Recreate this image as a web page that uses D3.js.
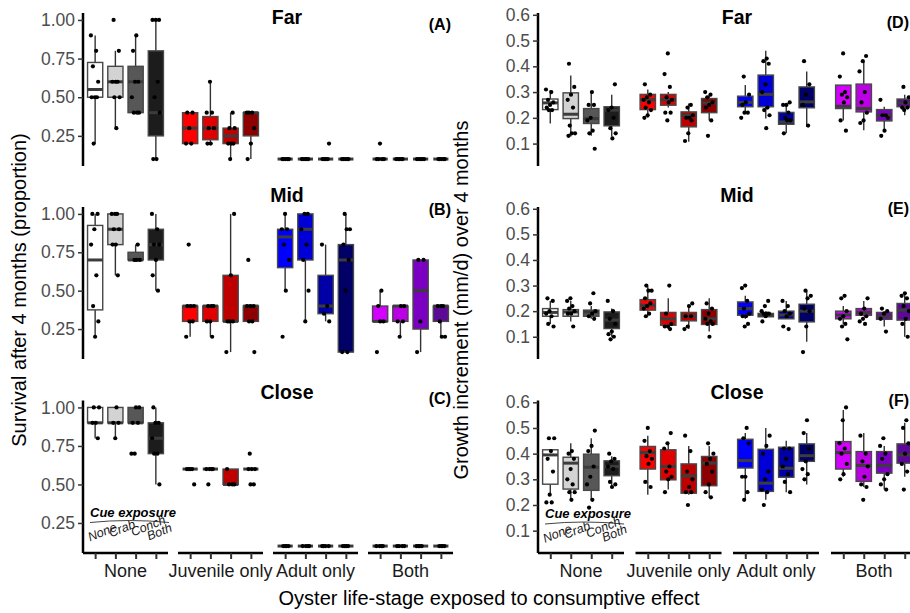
<!DOCTYPE html>
<html><head><meta charset="utf-8">
<script src="https://cdn.jsdelivr.net/npm/d3@7"></script>
<style>body{margin:0;background:#fff}svg{display:block;font-family:"Liberation Sans",Arial,sans-serif}</style>
</head><body><svg id="c" width="910" height="613"></svg>
<script>
// ---------- DATA ----------
const groups = ["None", "Juvenile only", "Adult only", "Both"];
const cues = ["None", "Crab", "Conch", "Both"];
const rowTitles = ["Far", "Mid", "Close"];
const panelTags = ["(A)", "(B)", "(C)", "(D)", "(E)", "(F)"];
const fillColors = ["#ffffff", "#d3d3d3", "#575757", "#1c1c1c",
  "#ff0000", "#e00000", "#bf0000", "#8e0000",
  "#0000ff", "#0000d6", "#0000a6", "#000066",
  "#d400ff", "#bb00e6", "#7c00c2", "#5c0a96"];
const survTicks = [0.25, 0.5, 0.75, 1.0];
const growthTicks = [0.1, 0.2, 0.3, 0.4, 0.5, 0.6];

// box stats: [lower whisker, Q1, median, Q3, upper whisker]
const survFarBox = [[0.2,0.5,0.55,0.725,0.9],[0.3,0.5,0.6,0.7,0.8],[0.4,0.4,0.6,0.7,0.9],[0.1,0.25,0.4,0.8,1.0],
  [0.2,0.2,0.3,0.4,0.4],[0.2,0.225,0.3,0.375,0.6],[0.1,0.2,0.25,0.3,0.4],[0.1,0.25,0.4,0.4,0.4],
  [0.1,0.1,0.1,0.1,0.1],[0.1,0.1,0.1,0.1,0.1],[0.1,0.1,0.1,0.1,0.1],[0.1,0.1,0.1,0.1,0.1],
  [0.1,0.1,0.1,0.1,0.1],[0.1,0.1,0.1,0.1,0.1],[0.1,0.1,0.1,0.1,0.1],[0.1,0.1,0.1,0.1,0.1]];
const survFarPts = [[0.9,0.8,0.7,0.6,0.5,0.5,0.5,0.2],[1.0,0.8,0.6,0.6,0.6,0.5,0.5,0.3],[0.9,0.8,0.6,0.6,0.5,0.4,0.4,0.4],[1.0,1.0,1.0,0.6,0.5,0.4,0.1,0.1],
  [0.4,0.4,0.3,0.2,0.2],[0.6,0.4,0.4,0.3,0.3,0.2,0.2],[0.4,0.3,0.3,0.2,0.2,0.2,0.1],[0.4,0.4,0.4,0.3,0.2,0.1],
  [0.1,0.1,0.1,0.1,0.1],[0.1,0.1,0.1,0.1,0.1],[0.2,0.1,0.1,0.1,0.1],[0.1,0.1,0.1,0.1,0.1],
  [0.2,0.1,0.1,0.1,0.1],[0.1,0.1,0.1,0.1,0.1],[0.1,0.1,0.1,0.1,0.1],[0.1,0.1,0.1,0.1,0.1]];

const survMidBox = [[0.2,0.375,0.7,0.925,1.0],[0.6,0.8,0.9,1.0,1.0],[0.7,0.7,0.7,0.75,0.8],[0.5,0.7,0.8,0.9,1.0],
  [0.2,0.3,0.4,0.4,0.4],[0.2,0.3,0.4,0.4,0.4],[0.1,0.3,0.3,0.6,1.0],[0.3,0.3,0.4,0.4,0.4],
  [0.5,0.65,0.85,0.9,1.0],[0.3,0.7,0.9,1.0,1.0],[0.3,0.35,0.4,0.6,0.8],[0.1,0.1,0.7,0.8,1.0],
  [0.3,0.3,0.3,0.4,0.5],[0.2,0.3,0.4,0.4,0.4],[0.1,0.25,0.5,0.7,0.7],[0.2,0.3,0.4,0.4,0.4]];
const survMidPts = [[1.0,1.0,0.9,0.8,0.6,0.4,0.3,0.2],[1.0,1.0,1.0,0.9,0.9,0.8,0.8,0.6],[0.8,0.7,0.7,0.7],[1.0,0.9,0.8,0.8,0.7,0.6,0.5],
  [0.8,0.4,0.4,0.4,0.3,0.3,0.2],[0.4,0.4,0.4,0.3,0.3,0.2],[1.0,0.6,0.3,0.3,0.3,0.1],[0.7,0.4,0.4,0.4,0.3,0.3,0.1],
  [1.0,0.9,0.9,0.8,0.7,0.5,0.2],[1.0,1.0,0.9,0.8,0.7,0.5,0.3],[0.8,0.4,0.35,0.3],[1.0,0.9,0.9,0.8,0.7,0.5,0.1,0.1],
  [0.5,0.4,0.3,0.3,0.1],[0.4,0.4,0.3,0.3,0.2],[0.7,0.7,0.3,0.1],[0.4,0.4,0.4,0.3,0.2,0.2]];

const survCloseBox = [[0.8,0.9,0.9,1.0,1.0],[0.8,0.9,0.9,1.0,1.0],[0.9,0.9,0.9,1.0,1.0],[0.5,0.7,0.8,0.9,1.0],
  [0.6,0.6,0.6,0.6,0.6],[0.6,0.6,0.6,0.6,0.6],[0.5,0.5,0.5,0.6,0.6],[0.6,0.6,0.6,0.6,0.6],
  [0.1,0.1,0.1,0.1,0.1],[0.1,0.1,0.1,0.1,0.1],[0.1,0.1,0.1,0.1,0.1],[0.1,0.1,0.1,0.1,0.1],
  [0.1,0.1,0.1,0.1,0.1],[0.1,0.1,0.1,0.1,0.1],[0.1,0.1,0.1,0.1,0.1],[0.1,0.1,0.1,0.1,0.1]];
const survClosePts = [[1.0,1.0,0.9,0.9,0.8],[1.0,0.9,0.9,0.8],[1.0,1.0,0.9,0.9,0.7,0.7],[1.0,0.9,0.9,0.8,0.7,0.7,0.5],
  [0.6,0.6,0.6,0.6,0.5],[0.6,0.6,0.6,0.6,0.5],[0.6,0.5,0.5,0.5],[0.7,0.6,0.6,0.6,0.5,0.5],
  [0.1,0.1,0.1,0.1],[0.1,0.1,0.1,0.1],[0.1,0.1,0.1,0.1],[0.1,0.1,0.1,0.1],
  [0.1,0.1,0.1,0.1],[0.1,0.1,0.1,0.1],[0.1,0.1,0.1,0.1],[0.1,0.1,0.1,0.1]];

const growFarBox = [[0.178,0.232,0.258,0.273,0.308],[0.128,0.197,0.214,0.297,0.364],[0.13,0.178,0.197,0.236,0.30],[0.128,0.169,0.23,0.243,0.29],
  [0.20,0.232,0.27,0.291,0.31],[0.24,0.249,0.271,0.291,0.30],[0.107,0.165,0.21,0.223,0.256],[0.19,0.22,0.258,0.275,0.29],
  [0.217,0.243,0.26,0.284,0.327],[0.197,0.243,0.291,0.366,0.46],[0.14,0.175,0.184,0.221,0.256],[0.165,0.239,0.262,0.32,0.38],
  [0.19,0.236,0.245,0.327,0.327],[0.152,0.223,0.236,0.331,0.418],[0.145,0.188,0.21,0.232,0.243],[0.21,0.243,0.258,0.273,0.29]];
const growFarPts = [[0.31,0.30,0.27,0.26,0.25,0.24,0.23,0.23],[0.41,0.32,0.29,0.27,0.24,0.17,0.14,0.14,0.13],[0.30,0.25,0.25,0.20,0.19,0.15,0.14,0.08],[0.33,0.24,0.23,0.20,0.16,0.14,0.12],
  [0.33,0.29,0.28,0.27,0.26,0.24,0.23,0.21,0.20],[0.45,0.37,0.32,0.28,0.27,0.26,0.22,0.22,0.19],[0.25,0.24,0.21,0.20,0.20,0.19,0.14,0.11],[0.30,0.29,0.28,0.26,0.25,0.24,0.19,0.13],
  [0.36,0.29,0.26,0.25,0.22,0.22,0.20],[0.43,0.42,0.41,0.33,0.30,0.24,0.23,0.21,0.16],[0.26,0.25,0.25,0.22,0.20,0.19,0.19,0.14],[0.42,0.33,0.29,0.25,0.17],
  [0.45,0.36,0.30,0.29,0.28,0.26,0.19,0.15],[0.44,0.42,0.38,0.30,0.26,0.22,0.19,0.18],[0.27,0.21,0.21,0.20,0.15,0.13],[0.32,0.28,0.26,0.24,0.24,0.23]];

const growMidBox = [[0.15,0.18,0.195,0.21,0.24],[0.16,0.18,0.197,0.206,0.24],[0.17,0.18,0.197,0.204,0.22],[0.10,0.132,0.165,0.197,0.21],
  [0.18,0.204,0.223,0.245,0.297],[0.13,0.145,0.17,0.195,0.25],[0.13,0.162,0.18,0.195,0.22],[0.12,0.148,0.17,0.206,0.25],
  [0.17,0.184,0.21,0.236,0.26],[0.175,0.178,0.185,0.191,0.20],[0.17,0.17,0.185,0.20,0.24],[0.08,0.158,0.20,0.227,0.28],
  [0.15,0.17,0.185,0.20,0.22],[0.18,0.184,0.195,0.21,0.24],[0.14,0.168,0.18,0.195,0.20],[0.10,0.165,0.204,0.23,0.27]];
const growMidPts = [[0.25,0.24,0.20,0.19,0.18,0.15,0.14],[0.25,0.24,0.22,0.21,0.20,0.19,0.19,0.14],[0.27,0.23,0.20,0.19,0.18,0.17],[0.24,0.20,0.17,0.15,0.12,0.11,0.10,0.09],
  [0.30,0.28,0.28,0.25,0.23,0.22,0.21,0.19,0.18],[0.30,0.19,0.15,0.14,0.14,0.13],[0.23,0.22,0.18,0.18,0.14,0.13],[0.23,0.21,0.19,0.17,0.16,0.15,0.15,0.10],
  [0.30,0.29,0.24,0.21,0.19,0.18,0.18,0.15,0.14],[0.24,0.22,0.20,0.19,0.19,0.19,0.18,0.16],[0.24,0.22,0.20,0.19,0.18,0.14,0.13],[0.28,0.26,0.25,0.21,0.20,0.14,0.04],
  [0.26,0.25,0.20,0.18,0.17,0.15,0.14,0.09],[0.25,0.21,0.19,0.18,0.17,0.16,0.15],[0.21,0.20,0.19,0.17,0.12],[0.27,0.26,0.25,0.22,0.20,0.17,0.15,0.10]];

const growCloseBox = [[0.24,0.281,0.395,0.415,0.415],[0.22,0.262,0.363,0.386,0.44],[0.22,0.257,0.347,0.398,0.46],[0.27,0.314,0.35,0.372,0.39],
  [0.24,0.34,0.404,0.428,0.47],[0.26,0.298,0.35,0.415,0.44],[0.24,0.246,0.313,0.36,0.43],[0.23,0.275,0.363,0.389,0.43],
  [0.22,0.344,0.373,0.456,0.48],[0.22,0.253,0.285,0.417,0.50],[0.25,0.308,0.343,0.425,0.45],[0.28,0.37,0.392,0.438,0.48],
  [0.31,0.34,0.404,0.447,0.57],[0.27,0.292,0.354,0.408,0.48],[0.26,0.324,0.354,0.408,0.43],[0.31,0.363,0.395,0.438,0.52]];
const growClosePts = [[0.46,0.46,0.41,0.38,0.33,0.24,0.21,0.21],[0.41,0.40,0.38,0.34,0.30,0.28,0.25,0.25,0.22],[0.49,0.43,0.41,0.35,0.31,0.28,0.22,0.19],[0.40,0.38,0.37,0.35,0.34,0.29,0.28,0.27],
  [0.50,0.45,0.41,0.39,0.38,0.36,0.29,0.27],[0.48,0.44,0.42,0.35,0.33,0.31,0.30,0.25],[0.47,0.41,0.33,0.30,0.27,0.25,0.25,0.20],[0.44,0.40,0.38,0.36,0.33,0.28,0.25,0.23],
  [0.50,0.46,0.44,0.31,0.31,0.25,0.22],[0.47,0.43,0.40,0.33,0.30,0.26,0.25,0.20],[0.42,0.42,0.38,0.35,0.32,0.29,0.25],[0.53,0.48,0.42,0.37,0.34,0.32,0.30],
  [0.58,0.53,0.44,0.42,0.40,0.36,0.32,0.30],[0.47,0.40,0.37,0.35,0.31,0.28,0.27,0.22],[0.46,0.43,0.40,0.38,0.32,0.30,0.28,0.26],[0.53,0.50,0.44,0.40,0.36,0.33,0.26]];

// ---------- LAYOUT ----------
const svg = d3.select("#c");
const rows = [{top: 13, bot: 166}, {top: 207, bot: 359}, {top: 400.5, bot: 553}];
const sides = [
  {facetX: [83, 178, 273, 368], facetW: 85, domain: [0.055, 1.045], ticks: survTicks, fmt: d3.format(".2f"),
   boxes: [survFarBox, survMidBox, survCloseBox], pts: [survFarPts, survMidPts, survClosePts],
   titleX: 287, tagX: 451},
  {facetX: [538, 635.5, 733, 831], facetW: 86, domain: [0.013, 0.607], ticks: growthTicks, fmt: d3.format(".1f"),
   boxes: [growFarBox, growMidBox, growCloseBox], pts: [growFarPts, growMidPts, growClosePts],
   titleX: 737, tagX: 909}
];
const titleBase = [23.5, 202, 398.5];
const tagBase = [[29.5, 215, 403.5], [27.5, 213.5, 405.5]];

sides.forEach((side, si) => {
  const xs = side.facetX.map(x0 => d3.scalePoint().domain(cues).range([x0, x0 + side.facetW]).padding(0.6));
  const step = xs[0].step();
  const bw = step * 0.75;
  rows.forEach((row, ri) => {
    const y = d3.scaleLinear().domain(side.domain).range([row.bot, row.top]);
    const g = svg.append("g");
    // y axis
    const ya = g.append("g").attr("transform", `translate(${side.facetX[0]},0)`)
      .call(d3.axisLeft(y).tickValues(side.ticks).tickFormat(side.fmt).tickSize(5).tickPadding(3));
    ya.select(".domain").attr("d", `M0,${row.top}V${row.bot}`).attr("stroke", "#000").attr("stroke-width", 2.5);
    ya.selectAll(".tick line").attr("stroke", "#333").attr("stroke-width", 1.5);
    ya.selectAll(".tick text").attr("fill", "#4d4d4d").attr("font-size", 17.5).attr("font-family", "Liberation Sans, Arial, sans-serif");
    // x axes on the bottom row
    if (ri === 2) {
      xs.forEach((x, gi) => {
        const xa = g.append("g").attr("transform", `translate(0,${row.bot})`)
          .call(d3.axisBottom(x).tickSize(6).tickFormat(""));
        xa.select(".domain").attr("d", `M${x.range()[0]},0H${x.range()[1]}`).attr("stroke", "#000").attr("stroke-width", 2.5);
        xa.selectAll(".tick line").attr("stroke", "#333").attr("stroke-width", 2);
        g.append("text").attr("x", (x.range()[0] + x.range()[1]) / 2).attr("y", row.bot + 24)
          .attr("text-anchor", "middle").attr("font-size", 18).attr("fill", "#1a1a1a").text(groups[gi]);
      });
    }
    // boxes
    const boxData = side.boxes[ri], ptData = side.pts[ri];
    boxData.forEach((b, k) => {
      const gi = Math.floor(k / 4), ci = k % 4;
      const cx = xs[gi](cues[ci]);
      g.append("line").attr("x1", cx).attr("x2", cx).attr("y1", y(b[4])).attr("y2", y(b[3]))
        .attr("stroke", "#333").attr("stroke-width", 1.4);
      g.append("line").attr("x1", cx).attr("x2", cx).attr("y1", y(b[1])).attr("y2", y(b[0]))
        .attr("stroke", "#333").attr("stroke-width", 1.4);
      g.append("rect").attr("x", cx - bw / 2).attr("width", bw)
        .attr("y", y(b[3])).attr("height", Math.max(0, y(b[1]) - y(b[3])))
        .attr("fill", fillColors[k]).attr("stroke", "#474747").attr("stroke-width", 1.4);
      g.append("line").attr("x1", cx - bw / 2).attr("x2", cx + bw / 2).attr("y1", y(b[2])).attr("y2", y(b[2]))
        .attr("stroke", "#3c3c3c").attr("stroke-width", 3);
    });
    // jittered points
    ptData.forEach((arr, k) => {
      const gi = Math.floor(k / 4), ci = k % 4;
      const cx = xs[gi](cues[ci]);
      arr.forEach((v, j) => {
        const f = ((j * 0.618034 + k * 0.29 + ri * 0.17) % 1) - 0.5;
        g.append("circle").attr("cx", cx + f * step * 0.42).attr("cy", y(v)).attr("r", 2.1).attr("fill", "#000");
      });
    });
    // titles
    g.append("text").attr("x", side.titleX).attr("y", titleBase[ri]).attr("text-anchor", "middle")
      .attr("font-size", 19.5).attr("font-weight", "bold").text(rowTitles[ri]);
    g.append("text").attr("x", side.tagX).attr("y", tagBase[si][ri]).attr("text-anchor", "end")
      .attr("font-size", 16).attr("font-weight", "bold").text(panelTags[si * 3 + ri]);
  });
  // cue exposure annotation in bottom panel
  const x0 = side.facetX[0];
  const ay = si === 0 ? 516.5 : 518;
  const a = svg.append("g").attr("transform", `translate(${x0},${ay})`);
  a.append("text").attr("x", 7).attr("y", 0).attr("font-size", 13).attr("font-weight", "bold")
    .attr("font-style", "italic").text("Cue exposure");
  a.append("path").attr("d", "M7,6 Q46,2 86,6").attr("fill", "none").attr("stroke", "#444").attr("stroke-width", 1);
  const lab = [[7, 25], [28, 21], [50, 20], [66, 24]];
  cues.forEach((c, i) => {
    a.append("text").attr("transform", `translate(${lab[i][0]},${lab[i][1]}) rotate(-22)`)
      .attr("font-size", 12.5).attr("font-style", "italic").attr("fill", "#1a1a1a").text(c);
  });
});

// axis titles
svg.append("text").attr("transform", "translate(26,290) rotate(-90)").attr("text-anchor", "middle")
  .attr("font-size", 20).attr("fill", "#000").text("Survival after 4 months (proportion)");
svg.append("text").attr("transform", "translate(468,300) rotate(-90)").attr("text-anchor", "middle")
  .attr("font-size", 20).attr("fill", "#000").text("Growth increment (mm/d) over 4 months");
svg.append("text").attr("x", 489).attr("y", 605).attr("text-anchor", "middle")
  .attr("font-size", 20).attr("fill", "#000").text("Oyster life-stage exposed to consumptive effect");
</script></body></html>
